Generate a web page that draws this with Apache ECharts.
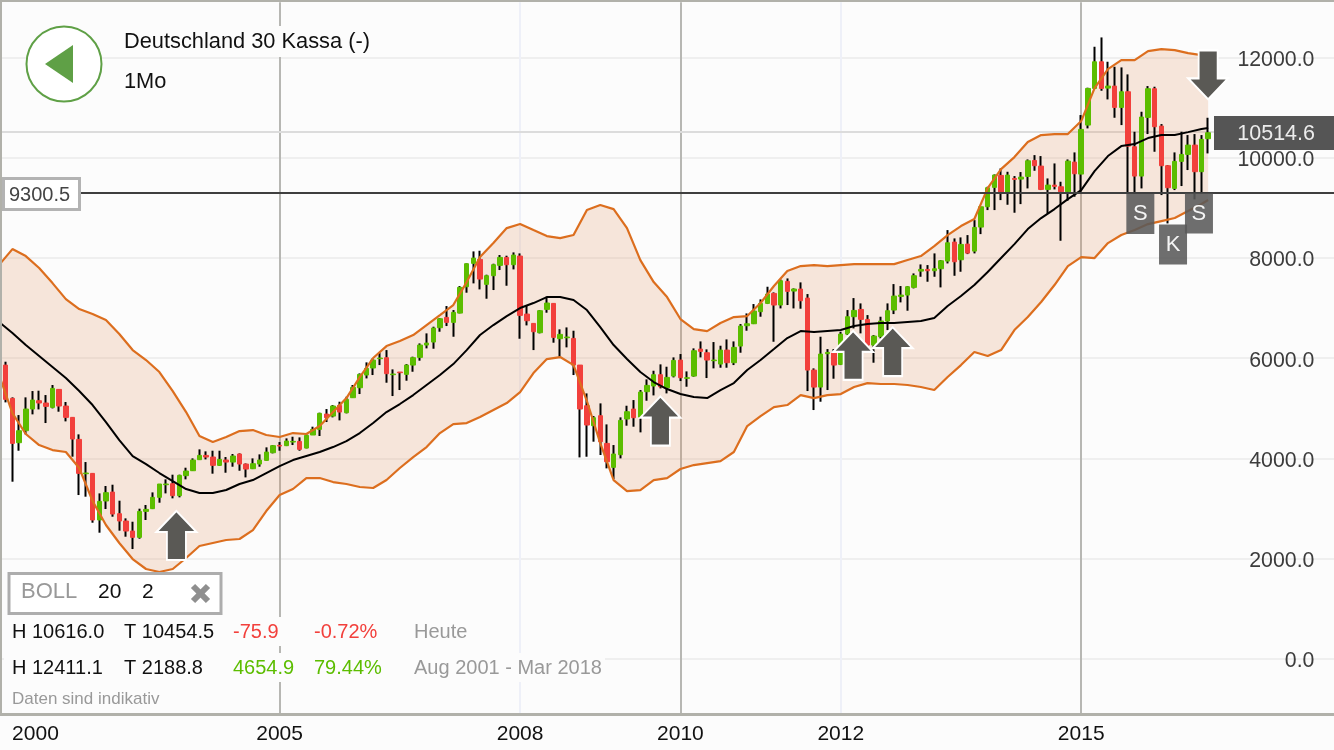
<!DOCTYPE html>
<html>
<head>
<meta charset="utf-8">
<title>Deutschland 30 Kassa</title>
<style>
html, body { margin: 0; padding: 0; background: #fcfcfc; }
#chart { width: 1334px; height: 750px; }
</style>
<script src="https://cdn.jsdelivr.net/npm/echarts@6/dist/echarts.min.js"></script>
</head>
<body>
<div id="chart"></div>
<script>
// monthly candles, first candle is Aug 2001
var opens = [
	5862,5198,4314,4553,4985,5151,5105,5018,5377,5045,
	4819,4380,3695,3702,2772,3151,3330,2898,2752,2552,
	2426,2944,2998,3224,3476,3496,3257,3656,3755,3975,
	4061,4028,3862,3968,3928,4088,3888,3795,3888,3961,
	4114,4261,4254,4327,4340,4207,4467,4579,4885,4845,
	5058,4912,5211,5410,5663,5803,5989,6009,5670,5723,
	5676,5862,6015,6261,6321,6607,6813,6713,6899,7424,
	7890,7969,7471,7644,7850,8009,7863,8036,6879,6693,
	6507,6972,7092,6388,6407,6394,5862,5051,4653,4852,
	4300,3822,4074,4786,4985,4825,5331,5444,5670,5410,
	5643,5962,5597,5643,6181,6108,5949,5882,6161,5909,
	6241,6647,6686,6926,7092,7291,7059,7531,7338,7378,
	7198,5762,5423,6088,6115,5876,6480,6826,6972,6773,
	6261,6427,6740,6959,7231,7258,7411,7736,7770,7743,
	7783,7936,8315,7962,8275,8135,8614,9019,9405,9644,
	9305,9584,9571,9624,9943,9830,9365,9451,9418,9318,
	9910,9671,10648,11379,11911,11386,11426,11000,11313,10216,
	9631,10801,11373,10628,9837,9385,9924,10063,10249,9718,
	10376
];
var closes = [
	5178,4300,4553,4985,5165,5105,5038,5397,5045,4819,
	4387,3702,3709,2772,3144,3317,2891,2752,2552,2426,
	2944,2984,3224,3490,3490,3257,3662,3749,3968,4061,
	4028,3862,3981,3928,4048,3888,3788,3895,3968,4127,
	4254,4247,4347,4340,4181,4460,4579,4899,4812,5045,
	4925,5178,5417,5676,5796,5962,6002,5690,5683,5710,
	5862,6009,6261,6301,6600,6786,6713,6913,7411,7883,
	7996,7577,7644,7863,8009,7863,8056,6853,6746,6527,
	6946,7099,6414,6474,6421,5862,4985,4666,4812,4334,
	3935,4088,4759,4932,4812,5324,5457,5670,5430,5616,
	5955,5610,5610,6148,6135,5962,5962,6161,5909,6215,
	6640,6686,6939,7092,7278,7059,7544,7331,7378,7145,
	5762,5423,6082,6115,5862,6480,6826,6952,6773,6261,
	6440,6740,6946,7238,7258,7424,7644,7770,7743,7783,
	7942,8301,7922,8268,8095,8607,9019,9398,9651,9312,
	9651,9564,9611,9936,9837,9365,9451,9425,9318,9930,
	9677,10562,11379,11911,11379,11426,11000,11313,10229,9631,
	10808,11373,10615,9837,9399,9924,10063,10249,9718,10362,
	10495
];
var lows = [
	5118,3536,4154,4480,4879,4978,4706,4998,4932,4739,
	4035,3270,3237,2718,2519,2991,2838,2559,2439,2193,
	2399,2772,2991,3117,3303,3204,3224,3583,3749,3975,
	3981,3696,3849,3715,3835,3755,3622,3788,3835,3955,
	4101,4154,4247,4267,4154,4201,4467,4447,4726,4819,
	4759,4899,5211,5284,5596,5663,5862,5510,5244,5364,
	5550,5729,5949,6195,6188,6527,6640,6427,6893,7305,
	7491,7371,7185,7358,7757,7444,7770,6387,6653,6161,
	6494,6906,6308,6029,6215,5663,4021,4034,4334,4068,
	3802,3589,4001,4653,4633,4520,5151,5257,5397,5297,
	5616,5543,5430,5630,6015,5603,5796,5809,5809,5862,
	6108,6547,6680,6826,7079,6327,6992,7059,6992,6986,
	5344,4965,5131,5364,5590,5862,6460,6593,6494,6195,
	5909,6394,6560,6879,7112,6946,7391,7623,7524,7623,
	7411,7889,7643,7723,8075,8089,8474,8953,8953,9152,
	9059,8900,9072,9385,9737,9352,8886,9365,8341,9139,
	9219,9286,10582,11366,11333,11160,10794,10648,9299,9312,
	9385,10469,10116,9252,8687,9352,9432,9751,9166,9299,
	10083
];
var highs = [
	5929,5218,4865,5218,5344,5351,5264,5464,5377,5125,
	4819,4480,3928,3702,3303,3450,3476,3157,2805,2738,
	2998,3071,3323,3490,3583,3676,3676,3815,4001,4181,
	4141,4154,4154,4028,4088,4101,3900,4001,4081,4221,
	4267,4327,4400,4433,4420,4480,4633,4912,4985,5065,
	5131,5231,5464,5696,5916,5995,6115,6161,5776,5723,
	5882,6029,6294,6494,6627,6800,7039,6959,7438,7890,
	8129,8142,7664,7883,8056,8043,8109,8089,7052,6693,
	6959,7225,7092,6574,6613,6547,5862,5297,4845,5098,
	4679,4267,4819,5051,5164,5364,5577,5749,5876,5829,
	6015,6082,5736,6195,6334,6175,6321,6248,6374,6334,
	6680,6892,7079,7172,7424,7311,7570,7590,7391,7511,
	7278,5796,6427,6181,6181,6527,6959,7198,7092,6859,
	6460,6826,7092,7477,7438,7438,7690,7869,7856,8089,
	7956,8554,8388,8408,8454,8753,9019,9418,9664,9784,
	9717,9631,9711,9963,10049,10030,9584,9883,9518,9963,
	10103,10848,11393,12210,12396,11911,11811,11798,11659,10515,
	10914,11426,11413,10668,9850,10103,10515,10449,10469,10449,
	10794
];

// bollinger readings, every second month from Jul 2001 plus the last candle
var bollUpper = [
	7857,8175,8036,7797,7497,7178,6979,6879,6760,6481,
	6161,5962,5723,5344,4925,4447,4327,4427,4546,4566,
	4467,4427,4506,4487,4646,4925,5204,5623,6002,6241,
	6341,6461,6660,6859,7059,7517,8016,8295,8594,8674,
	8554,8435,8395,8455,8953,9053,8973,8594,7956,7517,
	7218,6780,6580,6540,6700,6819,6839,7099,7438,7737,
	7836,7856,7836,7856,7876,7876,7876,7876,7956,8036,
	8235,8455,8634,8774,9392,9771,10010,10309,10449,10469,
	10469,10728,11386,11765,11944,11944,12124,12163,12143,12084,
	12044,12024
];
var bollMid = [
	6720,6500,6261,6042,5822,5603,5344,5065,4726,4367,
	4048,3888,3709,3549,3390,3310,3310,3370,3490,3569,
	3709,3848,3968,4048,4128,4227,4347,4506,4706,4925,
	5085,5264,5464,5663,5882,6161,6461,6660,6839,6999,
	7099,7218,7218,7159,6959,6620,6261,5982,5723,5523,
	5384,5284,5224,5204,5364,5503,5763,5962,6181,6401,
	6540,6520,6540,6560,6640,6680,6700,6700,6720,6740,
	6800,7039,7238,7458,7717,7996,8275,8574,8794,8973,
	9172,9352,9731,10030,10229,10269,10389,10449,10449,10508,
	10568,10588
];
var bollLower = [
	5663,4905,4487,4267,4167,4128,3809,3151,2672,2313,
	1994,1795,1735,1795,2014,2253,2313,2373,2393,2572,
	2951,3270,3390,3609,3609,3529,3490,3430,3410,3569,
	3809,4028,4227,4506,4686,4706,4825,4965,5105,5324,
	5703,5982,6022,5862,5145,4307,3569,3350,3370,3569,
	3609,3789,3868,3908,3948,4128,4646,4845,5025,5065,
	5264,5204,5264,5284,5424,5503,5484,5484,5464,5424,
	5364,5623,5862,6122,6042,6161,6560,6819,7119,7458,
	7836,8016,7996,8295,8455,8554,8674,8734,8794,8933,
	9073,9153
];

var lastPrice = 10514.6;
var hLine = 9300.5;

// category index (Jul 2001 = 0) -> tick text
var xTickIdx = [5, 42, 78, 102, 126, 162];
var xTickText = ['2000', '2005', '2008', '2010', '2012', '2015'];
var xTickFaint = ['2008', '2012'];
var xMajorIdx = [42, 102, 162];
var xMinorIdx = [78, 126];

// signal marks: category, price, pixel nudge
var upArrows = [[27, 2463, -3], [99, 4746, 0], [128, 6056, -1], [134, 6128, -1.5]];
var downArrows = [[181, 11651, 0]];
var boxSignals = [['S', 171, 8873, -1], ['K', 176, 8265, -1.7], ['S', 180, 8883, -2.5]];

var GREEN = '#5cbd00', RED = '#f2403c', ORANGE = '#dc6e1e', FRAME = '#b1b1aa', PAPER = '#fcfcfc';
var FONT = '"Liberation Sans", Arial, sans-serif';

var categories = [];
for (var k = 0; k < 201; k++) {
	var m = 6 + k;
	categories.push((2001 + Math.floor(m / 12)) + '-' + (m % 12 + 1));
}

var wickData = [['-', '-', '-', '-']];
var bodyData = [['-', '-', '-', '-']];
for (var i = 0; i < opens.length; i++) {
	wickData.push([opens[i], closes[i], lows[i], highs[i]]);
	bodyData.push([opens[i], closes[i], Math.min(opens[i], closes[i]), Math.max(opens[i], closes[i])]);
}

// readings sit on every 2nd category, the last on the final candle
function knotX(j, len) {
	return j === len - 1 ? 181 : j * 2;
}
function knots(values) {
	return values.map(function(v, j) {
		return [knotX(j, values.length), v];
	});
}
var bandData = bollUpper.map(function(v, j) {
	return [knotX(j, bollUpper.length), v, bollLower[j]];
});

// whole band is one polygon, drawn when the first item comes through
function renderBand(params, api) {
	if (params.dataIndex !== 0) return;
	var top = [], bottom = [];
	bandData.forEach(function(d) {
		top.push(api.coord([d[0], d[1]]));
		bottom.unshift(api.coord([d[0], d[2]]));
	});
	return {
		type: 'polygon',
		shape: { points: top.concat(bottom) },
		style: { fill: 'rgba(227,142,87,0.2)' }
	};
}

var ARROW_UP = 'path://M20 0L40 21L29.5 21L29.5 49L10.5 49L10.5 21L0 21Z';
var ARROW_DOWN = 'path://M10.5 0L29.5 0L29.5 28L40 28L20 49L0 28L10.5 28Z';

function arrowPoint(a, path) {
	return {
		coord: [a[0], a[1]],
		symbol: path,
		symbolSize: [40, 49],
		symbolOffset: [a[2], 0],
		itemStyle: { color: '#5a5955', borderColor: '#ffffff', borderWidth: 2 },
		label: { show: false }
	};
}
var markPoints = upArrows.map(function(a) { return arrowPoint(a, ARROW_UP); })
	.concat(downArrows.map(function(a) { return arrowPoint(a, ARROW_DOWN); }))
	.concat(boxSignals.map(function(b) {
		return {
			coord: [b[1], b[2]],
			symbol: 'rect',
			symbolSize: [28, 40],
			symbolOffset: [b[3], 0],
			itemStyle: { color: 'rgba(90,90,90,0.88)' },
			label: { show: true, position: 'inside', formatter: b[0], color: '#f4f4f4', fontSize: 22, fontFamily: FONT }
		};
	}));

function rect(x, y, w, h, fill, z, stroke, lw) {
	return {
		type: 'rect', z: z || 50,
		shape: { x: x, y: y, width: w, height: h },
		style: { fill: fill, stroke: stroke || null, lineWidth: lw || 0 }
	};
}
function text(str, x, y, size, color, z, align) {
	return {
		type: 'text', z: z || 51, x: x, y: y + 1,
		style: { text: str, fill: color, font: size + 'px ' + FONT, textVerticalAlign: 'middle', textAlign: align || 'left' }
	};
}

var myChart = echarts.init(document.getElementById('chart'));
var option = {
	animation: false,
	backgroundColor: PAPER,
	textStyle: { fontFamily: FONT },
	grid: { left: -4.28, right: -4.4, top: -43, bottom: -9.3, outerBoundsMode: 'none' },
	xAxis: [{
		type: 'category',
		data: categories,
		boundaryGap: true,
		axisLine: { show: false },
		axisTick: { show: false },
		splitLine: { show: false },
		axisLabel: {
			inside: true,
			margin: 15,
			fontSize: 21,
			hideOverlap: false,
			interval: function(idx) { return xTickIdx.indexOf(idx) >= 0; },
			formatter: function(v, idx) {
				var t = xTickText[xTickIdx.indexOf(idx)] || '';
				return idx === xTickIdx[0] ? '{first|' + t + '}' : t;
			},
			rich: { first: { padding: [0, 0, 0, 6], fontSize: 21, color: '#111' } },
			color: function(v, idx) {
				return xTickFaint.indexOf(xTickText[xTickIdx.indexOf(idx)]) >= 0 ? '#8c8c8c' : '#111';
			}
		}
	}, {
		// same span as the category axis, carries the bollinger readings
		type: 'value',
		show: false,
		min: -0.5,
		max: 200.5,
		splitLine: { show: false }
	}],
	yAxis: {
		type: 'value',
		position: 'right',
		min: -2000,
		max: 14000,
		interval: 2000,
		axisLine: { show: false },
		axisTick: { show: false },
		splitLine: { lineStyle: { color: '#efefef', width: 2 } },
		axisLabel: {
			inside: true,
			margin: 24,
			showMinLabel: false,
			showMaxLabel: false,
			formatter: function(v) { return '{t|' + v.toFixed(1) + '}'; },
			rich: { t: { fontSize: 21.3, color: '#3c3c3c', padding: [5, 0, 0, 0] } }
		}
	},
	series: [
		{
			name: 'band', type: 'custom', z: 1, xAxisIndex: 1,
			data: bandData,
			encode: { x: 0, y: [1, 2] },
			renderItem: renderBand,
			clip: false,
			silent: true
		},
		{
			name: 'wick', type: 'candlestick', z: 2, barWidth: 1, data: wickData,
			itemStyle: { color: '#000', color0: '#000', borderColor: '#000', borderColor0: '#000', borderWidth: 2 },
			markLine: {
				z: 1, silent: true, symbol: 'none', label: { show: false },
				data: xMajorIdx.map(function(c) {
					return [
						{ xAxis: c, yAxis: -1097, lineStyle: { color: '#b7b7b3', width: 2, type: 'solid' } },
						{ xAxis: c, yAxis: 13100 }
					];
				}).concat(xMinorIdx.map(function(c) {
					return [
						{ xAxis: c, yAxis: -1097, lineStyle: { color: '#eef0f8', width: 2, type: 'solid' } },
						{ xAxis: c, yAxis: 13100 }
					];
				})).concat([[
					{ xAxis: 0, yAxis: lastPrice, lineStyle: { color: '#dcdcdc', width: 2, type: 'solid' } },
					{ xAxis: 200, yAxis: lastPrice }
				]])
			}
		},
		{
			name: 'body', type: 'candlestick', z: 3, barWidth: 5, data: bodyData,
			itemStyle: { color: GREEN, color0: RED, borderColor: GREEN, borderColor0: RED, borderWidth: 1 },
			markLine: {
				z: 6, silent: true, symbol: 'none', label: { show: false },
				data: [[
					{ xAxis: 0, yAxis: hLine, lineStyle: { color: '#3f3f3f', width: 2, type: 'solid' } },
					{ xAxis: 200, yAxis: hLine }
				]]
			},
			markPoint: { z: 7, silent: true, data: markPoints }
		},
		{
			name: 'upper', type: 'line', z: 4, xAxisIndex: 1, data: knots(bollUpper), symbol: 'none',
			lineStyle: { color: ORANGE, width: 2.2 }
		},
		{
			name: 'lower', type: 'line', z: 4, xAxisIndex: 1, data: knots(bollLower), symbol: 'none',
			lineStyle: { color: ORANGE, width: 2.2 }
		},
		{
			name: 'mid', type: 'line', z: 4, xAxisIndex: 1, data: knots(bollMid), symbol: 'none',
			lineStyle: { color: '#000', width: 2 }
		}
	],
	graphic: [
		// frame
		rect(0, 0, 1334, 2, FRAME, 90),
		rect(0, 0, 2, 716, FRAME, 90),
		rect(0, 713, 1334, 3, FRAME, 90),
		// back button
		{ type: 'circle', z: 60, shape: { cx: 64, cy: 64, r: 37.5 }, style: { fill: '#fff', stroke: '#5fa046', lineWidth: 2 } },
		{ type: 'polygon', z: 61, shape: { points: [[45, 64], [73, 45], [73, 83]] }, style: { fill: '#5fa046' } },
		// title
		rect(119, 26, 256, 31, PAPER),
		text('Deutschland 30 Kassa (-)', 124, 41, 21.8, '#111'),
		rect(119, 66, 50, 31, PAPER),
		text('1Mo', 124, 81, 21.8, '#111'),
		// price boxes
		rect(1214, 116, 120, 34, '#555555', 60),
		text('10514.6', 1315, 133, 21.5, '#ececec', 61, 'right'),
		rect(3.5, 178.5, 76, 31, '#ffffff', 60, '#b3b3b3', 3),
		text('9300.5', 9, 194, 20, '#444', 61),
		// indicator box
		rect(9, 573.5, 212, 40, '#ffffff', 60, '#adadad', 3),
		text('BOLL', 21, 591, 22, '#999', 61),
		text('20', 98, 591, 21, '#111', 61),
		text('2', 142, 591, 21, '#111', 61),
		{ type: 'line', z: 61, shape: { x1: 193, y1: 586, x2: 208, y2: 601 }, style: { stroke: '#8f8f8f', lineWidth: 6 } },
		{ type: 'line', z: 61, shape: { x1: 208, y1: 586, x2: 193, y2: 601 }, style: { stroke: '#8f8f8f', lineWidth: 6 } },
		// stats
		rect(4, 617, 466, 29, PAPER),
		rect(4, 653, 601, 29, PAPER),
		text('H 10616.0', 12, 631, 20, '#111'),
		text('T 10454.5', 124, 631, 20, '#111'),
		text('-75.9', 233, 631, 20, RED),
		text('-0.72%', 314, 631, 20, RED),
		text('Heute', 414, 631, 20, '#999'),
		text('H 12411.1', 12, 667, 20, '#111'),
		text('T 2188.8', 124, 667, 20, '#111'),
		text('4654.9', 233, 667, 20, GREEN),
		text('79.44%', 314, 667, 20, GREEN),
		text('Aug 2001 - Mar 2018', 414, 667, 20, '#999'),
		text('Daten sind indikativ', 12, 698, 17, '#999')
	]
};
myChart.setOption(option);
</script>
</body>
</html>
